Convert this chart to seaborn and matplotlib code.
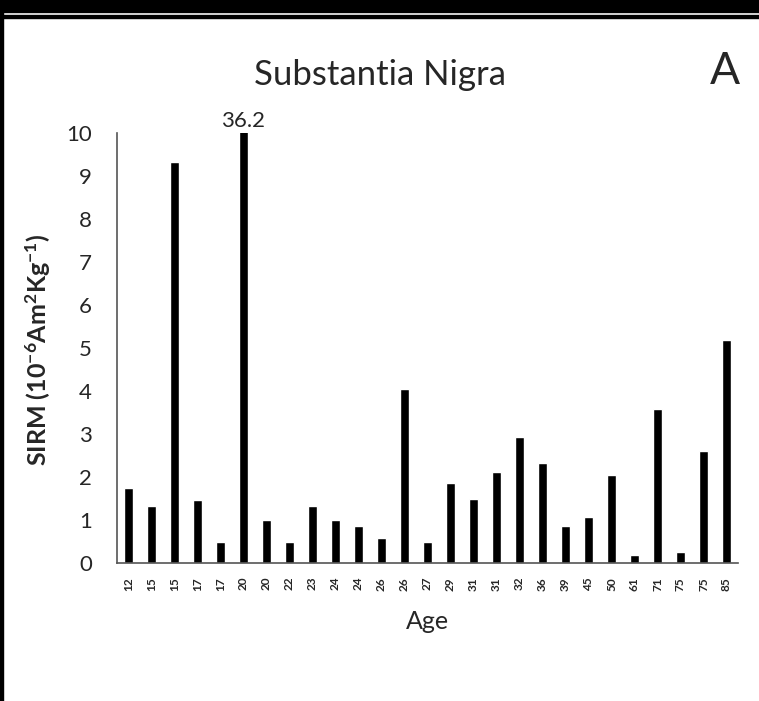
import matplotlib
matplotlib.use("Agg")
import matplotlib.pyplot as plt
import numpy as np
import pandas as pd
import seaborn as sns
from matplotlib.patches import Rectangle

ages = ["12", "15", "15", "17", "17", "20", "20", "22", "23", "24", "24", "26", "26", "27",
        "29", "31", "31", "32", "36", "39", "45", "50", "61", "71", "75", "75", "85"]
sirm = [1.75, 1.33, 9.32, 1.47, 0.5, 36.2, 1.0, 0.5, 1.33, 1.0, 0.86, 0.57, 4.04, 0.5,
        1.87, 1.5, 2.11, 2.94, 2.33, 0.87, 1.08, 2.05, 0.19, 3.58, 0.26, 2.61, 5.19]

df = pd.DataFrame({"sample": np.arange(len(ages)), "age": ages, "sirm": sirm})

sns.set_theme(style="white")
plt.rcParams["font.family"] = ["Lato", "DejaVu Sans"]
plt.rcParams["mathtext.fontset"] = "custom"
plt.rcParams["mathtext.rm"] = "Lato"
plt.rcParams["mathtext.bf"] = "Lato:bold"
plt.rcParams["mathtext.default"] = "bf"

fig = plt.figure(figsize=(7.59, 7.01), dpi=100)
ax = fig.add_axes([117 / 759, 1 - 563 / 701, (738 - 117) / 759, (563 - 133) / 701])

sns.barplot(data=df, x="sample", y="sirm", color="black", width=0.36,
            saturation=1, ax=ax)

ax.set_ylim(0, 10)
ax.set_xlim(-0.5, len(ages) - 0.5)
ax.set_yticks(range(0, 11))
ax.set_yticklabels([str(i) for i in range(0, 11)], fontsize=16)
ax.set_xticks(df["sample"])
ax.set_xticklabels(df["age"], rotation=90, fontsize=8.5, fontweight="bold")
ax.tick_params(axis="y", length=0, pad=18)
ax.tick_params(axis="x", length=0, pad=10)
sns.despine(ax=ax)
for s in ["left", "bottom"]:
    ax.spines[s].set_color("#555555")
    ax.spines[s].set_linewidth(1.2)

ax.set_xlabel("Age", fontsize=18, labelpad=14)
ax.set_ylabel("SIRM (10$^{-6}$Am$^{2}$Kg$^{-1}$)", fontsize=18, fontweight="bold")
ax.yaxis.set_label_coords(-0.103, 0.495)

big = df.loc[df["sirm"] > 10].iloc[0]
ax.text(big["sample"], 10.05, f"{big['sirm']:.1f}", ha="center", va="bottom", fontsize=16)

fig.text(380 / 759, 1 - 75 / 701, "Substantia Nigra", ha="center", va="center", fontsize=25)
fig.text(725 / 759, 1 - 71 / 701, "A", ha="center", va="center", fontsize=32)

# frame around the panel
fig.patches.append(Rectangle((0, 1 - 12 / 701), 1, 12 / 701, transform=fig.transFigure,
                             color="black", zorder=10))
fig.patches.append(Rectangle((0, 1 - 18 / 701), 1, 3 / 701, transform=fig.transFigure,
                             color="black", zorder=10))
fig.patches.append(Rectangle((0, 0), 3 / 759, 1, transform=fig.transFigure,
                             color="black", zorder=10))

fig.savefig("out.png", dpi=100)
